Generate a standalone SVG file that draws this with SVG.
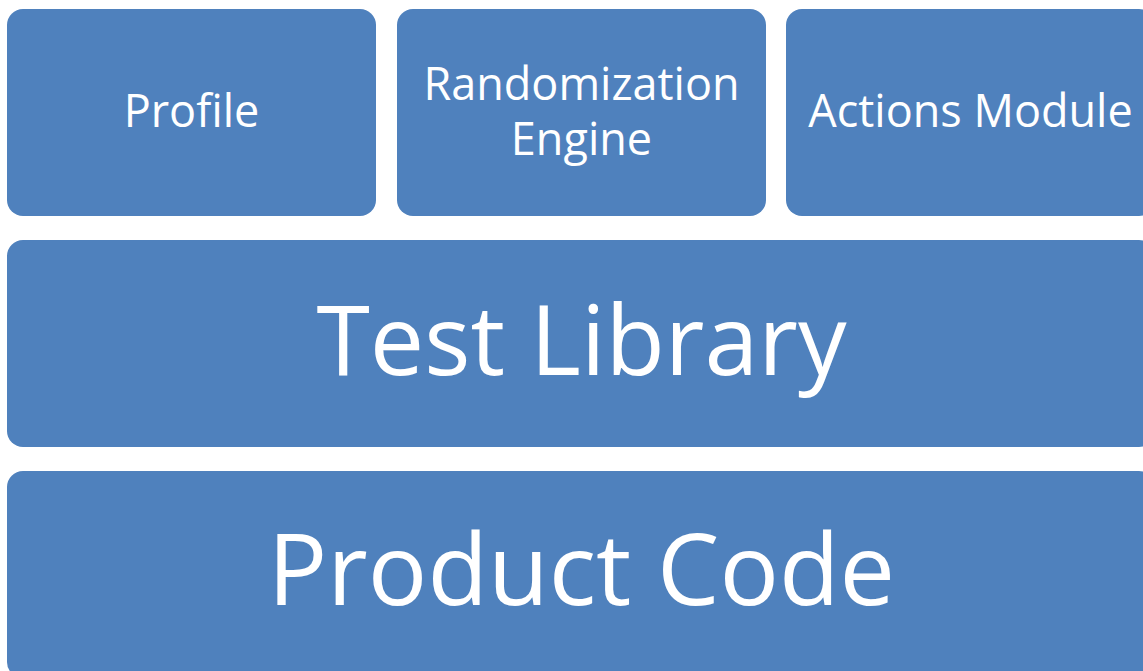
<svg xmlns="http://www.w3.org/2000/svg" width="1143" height="671" viewBox="0 0 1143 671">
  <style>
    .box { fill: #4F81BD; }
    .lbl { fill: #FFFFFF; font-family: "Open Sans", "Noto Sans", "DejaVu Sans", sans-serif; text-anchor: middle; }
    .sm { font-size: 45px; }
    .lg { font-size: 97px; }
    .xl { font-size: 99px; }
  </style>
  <rect x="0" y="0" width="1143" height="671" fill="#FFFFFF"/>

  <!-- top row: three modules -->
  <g id="profile">
    <rect class="box" x="7" y="9" width="369" height="207" rx="16"/>
    <text class="lbl sm" x="191.5" y="127">Profile</text>
  </g>
  <g id="randomization-engine">
    <rect class="box" x="397" y="9" width="369" height="207" rx="16"/>
    <text class="lbl sm" x="581.5" y="100">Randomization</text>
    <text class="lbl sm" x="581.5" y="155">Engine</text>
  </g>
  <g id="actions-module">
    <rect class="box" x="786" y="9" width="369" height="207" rx="16"/>
    <text class="lbl sm" x="970.5" y="127">Actions Module</text>
  </g>

  <!-- middle layer -->
  <g id="test-library">
    <rect class="box" x="7" y="240" width="1148" height="207" rx="16"/>
    <text class="lbl lg" x="581.5" y="375">Test Library</text>
  </g>

  <!-- bottom layer -->
  <g id="product-code">
    <rect class="box" x="7" y="471" width="1148" height="207" rx="16"/>
    <text class="lbl xl" x="581.5" y="605">Product Code</text>
  </g>

  <g id="connectors"/>
</svg>
